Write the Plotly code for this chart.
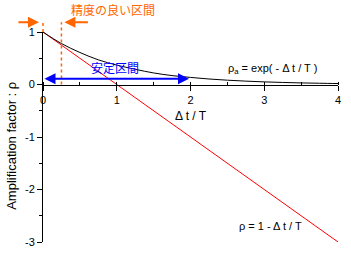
import plotly.graph_objects as go

# Data
x_exp = [0, 0.25, 0.5, 0.75, 1.0, 1.25, 1.5, 1.75, 2.0, 2.25, 2.5, 2.75, 3.0, 3.25, 3.5, 3.75, 4.0]
y_exp = [1.00, 0.78, 0.61, 0.47, 0.37, 0.29, 0.22, 0.17, 0.135, 0.105, 0.082, 0.064, 0.05, 0.039, 0.03, 0.024, 0.018]
x_lin = [0, 4]
y_lin = [1, -3]
x_ticks = [0, 1, 2, 3, 4]
x_ticktext = ["0", "1", "2", "3", "4"]
y_ticks = [1, 0, -1, -2, -3]
y_ticktext = ["1", "0", "-1", "-2", "-3"]
stable_range = [0, 2]
stable_y = 0.11
accurate_range = [0, 0.25]

XR = [0, 4]
YR = [-3, 1]
ORANGE = "#FF6600"
BLUE = "#0000FF"
FONT = "Liberation Sans, Arial, Noto Sans CJK JP, sans-serif"


def py(v):
    return (v - YR[0]) / (YR[1] - YR[0])


def px(v):
    return (v - XR[0]) / (XR[1] - XR[0])


fig = go.Figure()
fig.add_trace(go.Scatter(x=x_lin, y=y_lin, mode="lines",
                         line=dict(color="#FF0000", width=1)))
fig.add_trace(go.Scatter(x=x_exp, y=y_exp, mode="lines",
                         line=dict(color="black", width=1, shape="spline")))

top_y = 1.185
# dashed orange guide lines
fig.add_shape(type="line", xref="paper", yref="paper",
              x0=px(accurate_range[0]), x1=px(accurate_range[0]),
              y0=py(1.0), y1=py(top_y),
              line=dict(color=ORANGE, width=1.5, dash="dot"))
fig.add_shape(type="line", xref="paper", yref="paper",
              x0=px(accurate_range[1]), x1=px(accurate_range[1]),
              y0=py(0), y1=py(top_y),
              line=dict(color=ORANGE, width=1.5, dash="dot"))

ann = []
# orange arrows (paper refs, pixel tails)
ann.append(dict(x=px(accurate_range[0] - 0.055), y=py(top_y), ax=-22, ay=0,
                xref="paper", yref="paper", text="",
                showarrow=True, arrowhead=2, arrowsize=1.1, arrowwidth=2,
                arrowcolor=ORANGE))
ann.append(dict(x=px(accurate_range[1] + 0.04), y=py(top_y), ax=25, ay=0,
                xref="paper", yref="paper", text="",
                showarrow=True, arrowhead=2, arrowsize=1.1, arrowwidth=2,
                arrowcolor=ORANGE))
# blue double arrow
ann.append(dict(x=stable_range[0] + 0.02, y=stable_y, ax=stable_range[1], ay=stable_y,
                xref="x", yref="y", axref="x", ayref="y", text="",
                showarrow=True, arrowhead=2, arrowside="end+start",
                arrowsize=1.1, arrowwidth=2, arrowcolor=BLUE))
# texts
ann.append(dict(x=px(0.95), y=py(1.41), xref="paper", yref="paper", text="精度の良い区間",
                xanchor="center", yanchor="middle",
                showarrow=False, font=dict(color=ORANGE, size=12, family=FONT)))
ann.append(dict(x=0.97, y=0.3, xref="x", yref="y", text="安定区間",
                showarrow=False, font=dict(color=BLUE, size=12, family=FONT)))
ann.append(dict(x=3.11, y=0.3, xref="x", yref="y",
                text="ρ<sub>a</sub> = exp( - Δ t / T )",
                showarrow=False, font=dict(color="black", size=11, family=FONT)))
ann.append(dict(x=3.08, y=-2.7, xref="x", yref="y",
                text="ρ = 1 - Δ t / T",
                showarrow=False, font=dict(color="black", size=11, family=FONT)))
ann.append(dict(x=2.0, y=-0.6, xref="x", yref="y",
                text="Δ t / T",
                showarrow=False, font=dict(color="black", size=12, family=FONT)))
ann.append(dict(x=-0.105, y=0.458, xref="paper", yref="paper",
                xanchor="center", yanchor="middle",
                text="Amplification factor : ρ", textangle=-90,
                showarrow=False, font=dict(color="black", size=13, family=FONT)))

fig.update_layout(
    width=351, height=258,
    margin=dict(l=43, r=12, t=32, b=10),
    plot_bgcolor="white", paper_bgcolor="white",
    showlegend=False,
    font=dict(family=FONT, size=11, color="black"),
    annotations=ann,
    xaxis=dict(range=XR, anchor="free", position=py(0), showgrid=False,
               zeroline=False, showline=True, linecolor="black", linewidth=1,
               ticks="outside", ticklen=5, tickcolor="black",
               tickvals=x_ticks, ticktext=x_ticktext,
               minor=dict(ticks="inside", dtick=0.5, ticklen=3, tickcolor="black",
                          showgrid=False),
               tickfont=dict(size=11)),
    yaxis=dict(range=YR, showgrid=False, zeroline=False, showline=True,
               linecolor="black", linewidth=1,
               ticks="outside", ticklen=5, tickcolor="black",
               tickvals=y_ticks, ticktext=y_ticktext,
               minor=dict(ticks="outside", dtick=0.5, ticklen=3, tickcolor="black",
                          showgrid=False),
               tickfont=dict(size=11)),
)

fig.write_html("out.html")
